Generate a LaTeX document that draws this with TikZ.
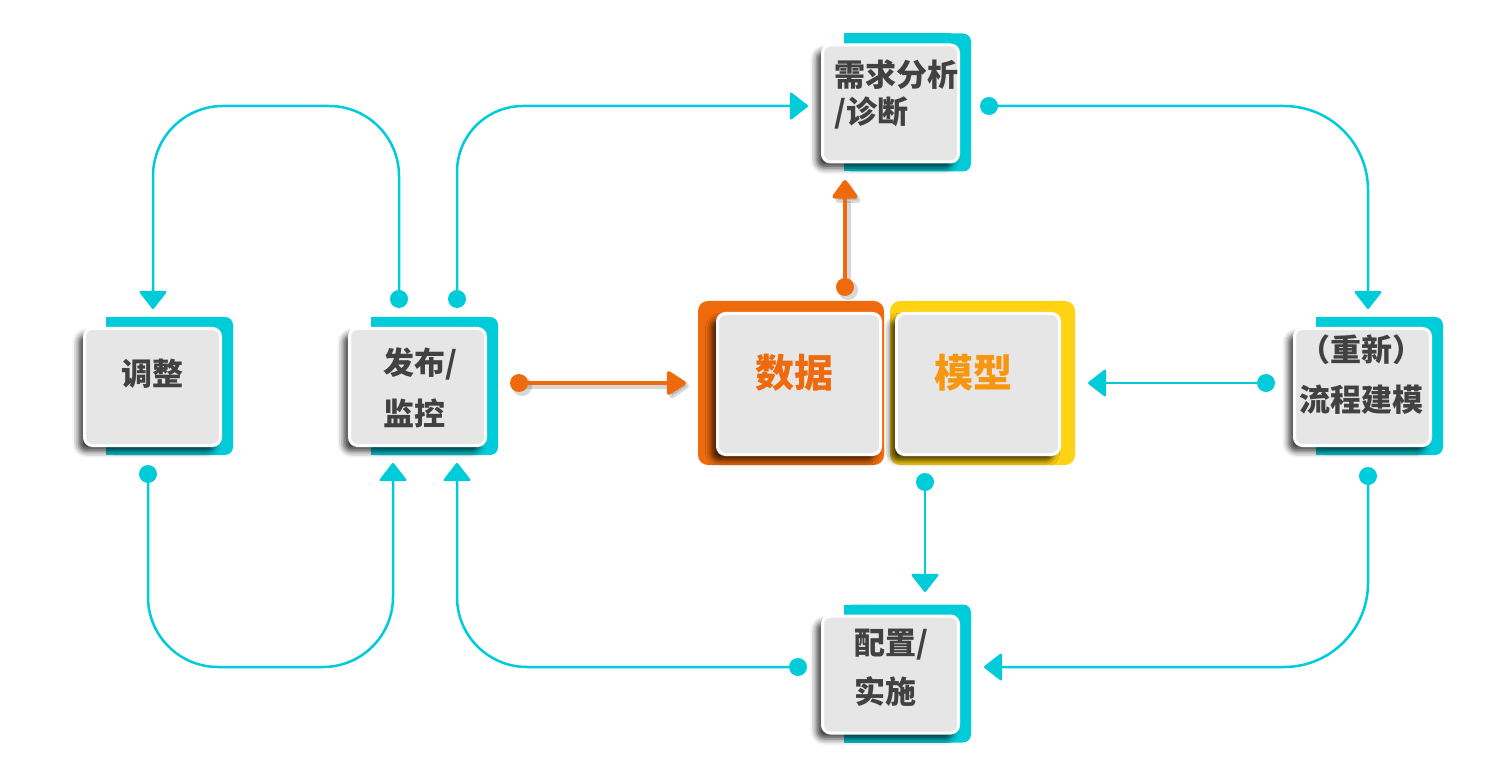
\documentclass[tikz,border=0pt]{standalone}
\usepackage{fontspec}
\newfontfamily\cjk{Noto Sans CJK SC}
\usetikzlibrary{arrows.meta,shadows.blur,calc}

\definecolor{tealc}{HTML}{00CCD9}
\definecolor{cardgrey}{HTML}{E6E6E6}
\definecolor{inkgrey}{HTML}{414141}
\definecolor{orangec}{HTML}{EE6A0C}
\definecolor{yellowc}{HTML}{FFD214}
\definecolor{amber}{HTML}{F7960F}

\tikzset{
  card/.style={draw=white, line width=1.5pt, fill=cardgrey, rounded corners=4pt,
    minimum width=68pt, minimum height=58.5pt, inner sep=0pt,
    blur shadow={shadow xshift=-3pt, shadow yshift=-3pt, shadow blur radius=3pt, shadow opacity=75}},
  bigcard/.style={card, minimum width=81.5pt, minimum height=70.5pt},
  label/.style={inner sep=0pt, text=inkgrey, font=\cjk\bfseries\fontsize{15.5}{18}\selectfont},
  biglabel/.style={inner sep=0pt, font=\cjk\bfseries\fontsize{19.5}{22}\selectfont},
  flow/.style={draw=tealc, line width=1.25pt,
    -{Triangle[width=14.5pt,length=9.5pt,round]}},
  dot/.style={fill=tealc},
  hot/.style={draw=orangec, line width=2pt,
    -{Triangle[width=13pt,length=10.5pt,round]}},
  hotshadow/.style={draw=black!70, opacity=0.22, line width=2.6pt,
    -{Triangle[width=14pt,length=11pt,round]}},
}

% teal tab behind a card (square on the left, rounded on the right) and the card itself
\newcommand\tabcard[3]{%
  \fill[tealc, rounded corners=4pt] (#2-46.5, #3-70) rectangle (#2+80.5, #3+68);
  \fill[tealc] (#2-46.5, #3-70) rectangle (#2+60, #3+68);
  \node[card] (#1) at (#2,#3) {};
}

\begin{document}
\begin{tikzpicture}[x=0.5pt, y=-0.5pt]
\useasboundingbox (0,0) rectangle (1492,780);

% ---- side cards ----
\tabcard{tz}{152.5}{387}
\tabcard{fb}{417.5}{387}
\tabcard{xq}{890.5}{103.5}
\tabcard{cx}{1362.5}{387}
\tabcard{pz}{890.5}{674.5}

% ---- central pair ----
\fill[orangec, rounded corners=5pt] (698,301) rectangle (884,465);
\fill[yellowc, rounded corners=5pt] (890,301) rectangle (1075,465);
\node[bigcard] (sj) at (799,384) {};
\node[bigcard] (mx) at (978,384) {};

% ---- texts ----
\node[label, anchor=base] (tz-t) at (152,386) {调整};
\node[label, anchor=base west] (fb-t1) at (383,374) {发布/};
\node[label, anchor=base west] (fb-t2) at (383,425) {监控};
\node[label, anchor=base west] (xq-t1) at (834,87) {需求分析};
\node[label, anchor=base west] (xq-t2) at (834,124) {/诊断};
\node[label, anchor=base] (cx-t1) at (1361,362) {（重新）};
\node[label, anchor=base] (cx-t2) at (1361,411) {流程建模};
\node[label, anchor=base west] (pz-t1) at (854,654) {配置/};
\node[label, anchor=base west] (pz-t2) at (854,703) {实施};
\node[biglabel, text=orangec, anchor=base] (sj-t) at (794,387) {数据};
\node[biglabel, text=amber, anchor=base] (mx-t) at (973,387) {模型};

% ---- connector ends ----
\coordinate (fb-up1) at (399,299);
\coordinate (fb-up2) at (457,299);
\coordinate (tz-in) at (153,309);
\coordinate (xq-in) at (808,106);
\coordinate (xq-out) at (989,106);
\coordinate (cx-in) at (1368,309);
\coordinate (cx-out1) at (1266,383);
\coordinate (mx-in) at (1088,383);
\coordinate (cx-out2) at (1368,476);
\coordinate (pz-in1) at (984,667);
\coordinate (pz-out) at (798,667);
\coordinate (fb-in2) at (457,463);
\coordinate (tz-out) at (148,474);
\coordinate (fb-in1) at (393,463);
\coordinate (mx-out) at (925,482);
\coordinate (pz-in2) at (925,592);
\coordinate (fb-out) at (519,383);
\coordinate (sj-in) at (686,383);
\coordinate (sj-out) at (845,287);
\coordinate (xq-in2) at (845,180);

% ---- teal connectors ----
\draw[flow, rounded corners=35pt] (fb-up1) -- (399,106) -- (153,106) -- (tz-in);
\draw[flow, rounded corners=33pt] (fb-up2) -- (457,106) -- (xq-in);
\draw[flow, rounded corners=42pt] (xq-out) -- (1368,106) -- (cx-in);
\draw[flow] (cx-out1) -- (mx-in);
\draw[flow, rounded corners=42pt] (cx-out2) -- (1368,667) -- (pz-in1);
\draw[flow, rounded corners=35pt] (pz-out) -- (457,667) -- (fb-in2);
\draw[flow, rounded corners=35pt] (tz-out) -- (148,667) -- (393,667) -- (fb-in1);
\draw[flow] (mx-out) -- (pz-in2);
\foreach \p in {fb-up1,fb-up2,xq-out,cx-out1,cx-out2,pz-out,tz-out,mx-out}
  \fill[dot] (\p) circle (4.5pt);

% ---- orange connectors ----
\draw[hotshadow] ($(fb-out)+(3,3)$) -- ($(sj-in)+(3,3)$);
\fill[black!70, opacity=0.22] ($(fb-out)+(3,3)$) circle (5pt);
\draw[hot] (fb-out) -- (sj-in);
\fill[orangec] (fb-out) circle (4.5pt);
\draw[hotshadow] ($(sj-out)+(3,3)$) -- ($(xq-in2)+(3,3)$);
\fill[black!70, opacity=0.22] ($(sj-out)+(3,3)$) circle (5pt);
\draw[hot, -{Triangle[width=14pt,length=10pt,round]}] (sj-out) -- (xq-in2);
\fill[orangec] (sj-out) circle (4.5pt);
\end{tikzpicture}
\end{document}
